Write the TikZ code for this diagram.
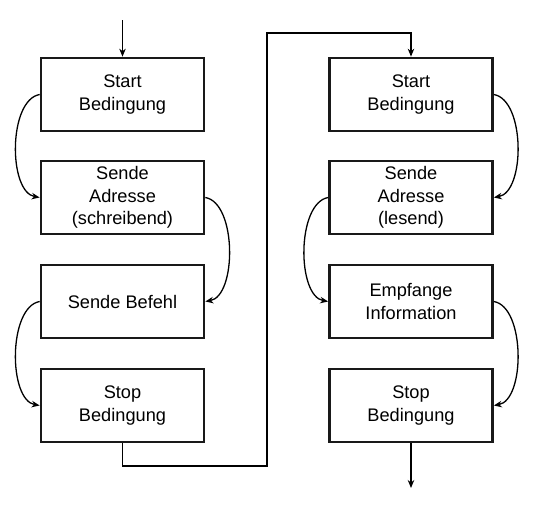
\documentclass[tikz,border=0pt]{standalone}
\usepackage{fontspec}
\setmainfont{Liberation Sans}
\usetikzlibrary{arrows.meta}

\tikzset{
  zustand/.style={rectangle, draw=black!90, line width=2.7pt, minimum width=163pt, minimum height=73pt, inner sep=0pt, align=center, text centered, font=\fontsize{18.2}{22.5}\selectfont},
  pfeil/.style={line width=1.3pt, -{Stealth[length=8pt,width=6.5pt]}},
}

\begin{document}
\begin{tikzpicture}[x=1pt, y=-1pt]
  \useasboundingbox (0,0) rectangle (542,514);
  % linke Spalte: schreiben
  \node[zustand] (start1) at (122.5, 94.5) {Start\\Bedingung};
  \node[zustand] (adr1) at (122.5, 197.5) {Sende\\Adresse\\(schreibend)};
  \node[zustand] (befehl) at (122.5, 301.5) {Sende Befehl};
  \node[zustand] (stop1) at (122.5, 405.5) {Stop\\Bedingung};
  % rechte Spalte: lesen
  \node[zustand] (start2) at (411, 94.5) {Start\\Bedingung};
  \node[zustand] (adr2) at (411, 197.5) {Sende\\Adresse\\(lesend)};
  \node[zustand] (empfang) at (411, 301.5) {Empfange\\Information};
  \node[zustand] (stop2) at (411, 405.5) {Stop\\Bedingung};
  \coordinate (ein) at (122.5, 20);
  \coordinate (unten) at (267, 466);
  \coordinate (oben) at (267, 33);
  \coordinate (aus) at (411, 488);

  \draw[pfeil] (ein) -- (start1.north);
  \draw[pfeil] (start1.west) to[out=190, in=170, distance=32pt] (adr1.west);
  \draw[pfeil] (adr1.east) to[out=-10, in=10, distance=32pt] (befehl.east);
  \draw[pfeil] (befehl.west) to[out=190, in=170, distance=32pt] (stop1.west);
  \draw[pfeil] (stop1.south) |- (unten) -- (oben) -| (start2.north);
  \draw[pfeil] (start2.east) to[out=-10, in=10, distance=32pt] (adr2.east);
  \draw[pfeil] (adr2.west) to[out=190, in=170, distance=32pt] (empfang.west);
  \draw[pfeil] (empfang.east) to[out=-10, in=10, distance=32pt] (stop2.east);
  \draw[pfeil] (stop2.south) -- (aus);
\end{tikzpicture}
\end{document}
